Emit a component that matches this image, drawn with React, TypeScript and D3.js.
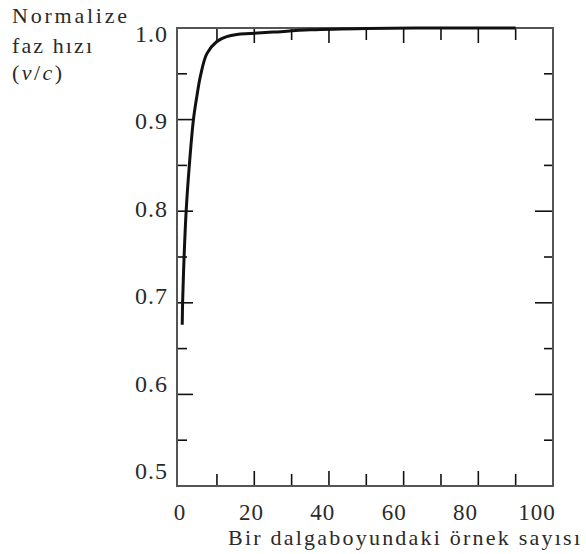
import React from 'react';
import * as d3 from 'd3';

// samples per wavelength vs normalized phase velocity
const samples = [0.7, 0.8, 1.2, 1.75, 2.6, 3.7, 4.6, 5.6, 7.3, 9.9, 12.6, 15.3, 18.9, 25, 35, 50, 70, 90];
const velocity = [0.676, 0.7, 0.75, 0.8, 0.85, 0.9, 0.925, 0.948, 0.972, 0.985, 0.9905, 0.993, 0.994, 0.9955, 0.998, 0.9995, 1.0, 1.0];

const xTickLabels = [0, 20, 40, 60, 80, 100];
const yTickLabels = [0.5, 0.6, 0.7, 0.8, 0.9, 1.0];
const xMajor = [20, 40, 60, 80];
const xMinor = [10, 30, 50, 70, 90];
const yMajor = [0.6, 0.7, 0.8, 0.9];
const yMinor = [0.55, 0.65, 0.75, 0.85, 0.95];

const W = 586;
const H = 554;
const plot = { left: 177, right: 553, top: 28, bottom: 486 };

export default function App() {
  const x = d3.scaleLinear().domain([-0.7, 100]).range([plot.left, plot.right]);
  const y = d3.scaleLinear().domain([0.5, 1.0]).range([plot.bottom, plot.top]);
  // tick labels in the source sit a bit off the ticks
  const xLab = d3.scaleLinear().domain([0, 100]).range([180, 537]);
  const yLab = d3.scaleLinear().domain([0.5, 1.0]).range([479, 42]);

  const pts: [number, number][] = samples.map((s, i) => [s, velocity[i]]);
  const line = d3.line<[number, number]>()
    .x(d => x(d[0]))
    .y(d => y(d[1]))
    .curve(d3.curveCatmullRom.alpha(0.5));

  const tickColor = '#111';

  return (
    <svg width={W} height={H}
      style={{ position: 'absolute', left: 0, top: 0, background: '#fff', fontFamily: 'Liberation Serif' }}>
      {/* y title */}
      <g fill="#2a2a2a" fontSize={22}>
        <text x={12} y={23} textLength={115} lengthAdjust="spacing">Normalize</text>
        <text x={12} y={53} textLength={80} lengthAdjust="spacing">faz hızı</text>
        <text x={12} y={80} textLength={50} lengthAdjust="spacing">
          (<tspan fontStyle="italic">v</tspan>/<tspan fontStyle="italic">c</tspan>)
        </text>
      </g>

      {/* ticks */}
      <g stroke={tickColor} strokeWidth={1.6}>
        {xMajor.map(d => (
          <g key={'xm' + d}>
            <line x1={x(d)} x2={x(d)} y1={plot.bottom} y2={plot.bottom - 15} />
            <line x1={x(d)} x2={x(d)} y1={plot.top} y2={plot.top + 15} />
          </g>
        ))}
        {xMinor.map(d => (
          <g key={'xn' + d}>
            <line x1={x(d)} x2={x(d)} y1={plot.bottom} y2={plot.bottom - 12} />
            <line x1={x(d)} x2={x(d)} y1={plot.top} y2={plot.top + 12} />
          </g>
        ))}
        {yMajor.map(d => (
          <g key={'ym' + d}>
            <line x1={plot.left} x2={plot.left + 16} y1={y(d)} y2={y(d)} />
            <line x1={plot.right} x2={plot.right - 18} y1={y(d)} y2={y(d)} />
          </g>
        ))}
        {yMinor.map(d => (
          <g key={'yn' + d}>
            <line x1={plot.left} x2={plot.left + 10} y1={y(d)} y2={y(d)} />
            <line x1={plot.right} x2={plot.right - 9} y1={y(d)} y2={y(d)} />
          </g>
        ))}
      </g>

      {/* frame */}
      <rect x={plot.left} y={plot.top} width={plot.right - plot.left} height={plot.bottom - plot.top}
        fill="none" stroke="#555" strokeWidth={2} />

      {/* curve */}
      <path d={line(pts) ?? ''} fill="none" stroke="#111" strokeWidth={3} strokeLinejoin="round" />

      {/* tick labels */}
      <g fill="#2a2a2a">
        {yTickLabels.map(d => (
          <text key={'yl' + d} x={168} y={yLab(d)} fontSize={24} textAnchor="end" letterSpacing={1}>
            {d.toFixed(1)}
          </text>
        ))}
        {xTickLabels.map(d => (
          <text key={'xl' + d} x={xLab(d)} y={520} fontSize={23} textAnchor="middle" letterSpacing={1}>
            {d}
          </text>
        ))}
      </g>

      <text x={228} y={545} fontSize={22} fill="#2a2a2a" textLength={352} lengthAdjust="spacing">
        Bir dalgaboyundaki örnek sayısı
      </text>
    </svg>
  );
}
